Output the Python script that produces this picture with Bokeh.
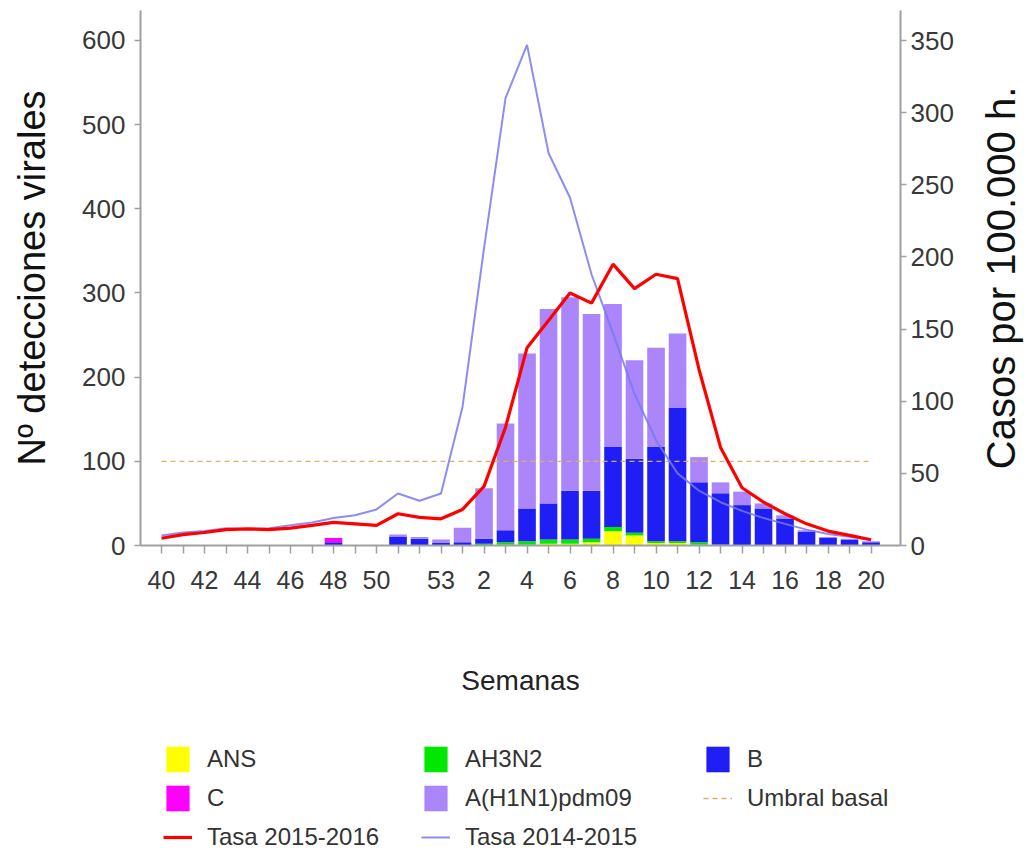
from bokeh.plotting import figure
from bokeh.layouts import column, row
from bokeh.models import (Range1d, LinearAxis, FixedTicker, Legend, LegendItem,
                          ColumnDataSource)
from bokeh.embed import file_html
from bokeh.resources import INLINE

# ---------------- data ----------------
weeks = ["40", "41", "42", "43", "44", "45", "46", "47", "48", "49", "50", "51", "52", "53",
         "1", "2", "3", "4", "5", "6", "7", "8", "9", "10", "11", "12", "13", "14", "15",
         "16", "17", "18", "19", "20"]
tick_labels = ["40", "", "42", "", "44", "", "46", "", "48", "", "50", "", "", "53",
               "", "2", "", "4", "", "6", "", "8", "", "10", "", "12", "", "14", "",
               "16", "", "18", "", "20"]

ans = [0, 0, 0, 0, 0, 0, 0, 0, 0, 0, 0, 0, 0, 0,
       0, 0, 1, 1, 2, 2, 4, 17, 12, 3, 3, 1, 0, 0, 0, 0, 0, 0, 0, 0]
ah3n2 = [0, 0, 0, 0, 0, 0, 0, 0, 0, 0, 0, 0, 0, 0,
         0, 2, 3, 4, 5, 5, 4, 5, 3, 2, 2, 3, 1, 0, 0, 0, 0, 0, 0, 0]
b = [0, 0, 0, 0, 0, 0, 0, 0, 4, 0, 0, 10, 8, 3,
     4, 6, 14, 39, 43, 58, 57, 95, 88, 112, 159, 71, 61, 48, 44, 32, 16, 9, 7, 4]
c = [0, 0, 0, 0, 0, 0, 0, 0, 5, 0, 0, 0, 0, 0,
     0, 0, 0, 0, 0, 0, 0, 0, 0, 0, 0, 0, 0, 0, 0, 0, 0, 0, 0, 0]
h1n1 = [0, 0, 0, 0, 0, 0, 0, 0, 0, 0, 0, 3, 2, 4,
        17, 60, 127, 184, 231, 230, 210, 170, 117, 118, 88, 30, 13, 16, 6, 4, 2, 1, 1, 1]

tasa_2015_2016 = [5, 7.5, 9, 11, 11.5, 11, 12, 14, 16, 15, 14, 22, 19.5, 18.5,
                  25, 41, 82, 137, 156, 175, 168, 195, 178, 188, 185, 122, 68, 40, 30, 22,
                  15, 10, 7, 4]
tasa_2014_2015 = [7, 9, 10, 12, 11.5, 12, 14, 16, 19, 21, 25, 36, 31, 36,
                  96, 206, 310, 347, 272, 241, 188, 147, 105, 73, 50, 38, 30, 24, 19, 15,
                  11, 8, 6, 4]
umbral_basal = 100

# ---------------- styling ----------------
FONT = "Liberation Sans"
AXIS_GRAY = "#a0a0a0"
COL_ANS, COL_H3, COL_B, COL_C, COL_H1 = "#ffff00", "#00e800", "#1f1ff5", "#ff00ff", "#ab86fb"
COL_UMB, COL_1415, COL_1516 = "#d8b066", "#7878f6", "#ff0000"

idx = list(range(len(weeks)))
src = ColumnDataSource(dict(x=idx, ANS=ans, AH3N2=ah3n2, B=b, C=c, H1N1=h1n1,
                            t1516=tasa_2015_2016, t1415=tasa_2014_2015,
                            umbral=[umbral_basal] * len(weeks)))

W_TOTAL = 1024
W_RT = 60                       # strip holding the right-hand axis title
W = W_TOTAL - W_RT
H_MAIN, H_LEG = 710, 146
FL, FR, FT, FB = 140, 900, 10, 545
p = figure(width=W, height=H_MAIN, output_backend="svg", toolbar_location=None,
           x_range=Range1d(-0.977, 34.37), y_range=Range1d(0, 635.6),
           min_border_left=FL, min_border_right=W - FR, min_border_top=FT,
           min_border_bottom=H_MAIN - FB)
p.extra_y_ranges = {"right": Range1d(0, 370.8)}
p.outline_line_color = None
p.grid.visible = False
p.background_fill_color = "white"
p.border_fill_color = "white"

# bars
bar_colors = [COL_ANS, COL_H3, COL_B, COL_C, COL_H1]
stack_keys = ["ANS", "AH3N2", "B", "C", "H1N1"]
bars = p.vbar_stack(stack_keys, x="x", width=0.82, color=bar_colors, source=src,
                    line_color=None)

# threshold line
p.line("x", "umbral", source=src, line_color=COL_UMB, line_width=1.3, line_dash="5 4")
# rate lines (right axis)
p.line("x", "t1415", source=src, y_range_name="right", line_color=COL_1415,
       line_width=2, line_alpha=0.85)
p.line("x", "t1516", source=src, y_range_name="right", line_color=COL_1516,
       line_width=3.2)

# x axis
xa = p.xaxis[0]
xa.ticker = FixedTicker(ticks=idx)
xa.major_label_overrides = {i: lab for i, lab in zip(idx, tick_labels)}
xa.axis_line_color = AXIS_GRAY
xa.axis_line_width = 2
xa.major_tick_line_color = AXIS_GRAY
xa.major_tick_line_width = 1.5
xa.major_tick_out = 8
xa.major_tick_in = 0
xa.minor_tick_line_color = None
xa.major_label_text_font = FONT
xa.major_label_text_font_size = "25px"
xa.major_label_text_color = "#383838"
xa.major_label_standoff = 17
xa.axis_label = "Semanas"
xa.axis_label_text_font = FONT
xa.axis_label_text_font_style = "normal"
xa.axis_label_text_font_size = "28px"
xa.axis_label_text_color = "#222222"
xa.axis_label_standoff = 73

# left axis
ya = p.yaxis[0]
ya.ticker = FixedTicker(ticks=[0, 100, 200, 300, 400, 500, 600])
ya.axis_line_color = AXIS_GRAY
ya.axis_line_width = 2
ya.major_tick_line_color = AXIS_GRAY
ya.major_tick_line_width = 1.5
ya.major_tick_out = 6
ya.major_tick_in = 0
ya.minor_tick_line_color = None
ya.major_label_text_font = FONT
ya.major_label_text_font_size = "26px"
ya.major_label_text_color = "#383838"
ya.major_label_standoff = 9
ya.axis_label = "Nº detecciones virales"
ya.axis_label_text_font = FONT
ya.axis_label_text_font_style = "normal"
ya.axis_label_text_font_size = "38px"
ya.axis_label_text_color = "#111111"
ya.axis_label_standoff = 26

# right axis (ticks and numbers)
ra = LinearAxis(y_range_name="right",
                ticker=FixedTicker(ticks=[0, 50, 100, 150, 200, 250, 300, 350]))
ra.axis_line_color = AXIS_GRAY
ra.axis_line_width = 2
ra.major_tick_line_color = AXIS_GRAY
ra.major_tick_line_width = 1.5
ra.major_tick_out = 6
ra.major_tick_in = 0
ra.minor_tick_line_color = None
ra.major_label_text_font = FONT
ra.major_label_text_font_size = "26px"
ra.major_label_text_color = "#383838"
ra.major_label_standoff = 4
p.add_layout(ra, "right")

# right-hand axis title, drawn as the (bottom-to-top) label of a slim companion plot
pr = figure(width=W_RT, height=H_MAIN, output_backend="svg", toolbar_location=None,
            x_range=Range1d(0, 1), y_range=Range1d(0, 370.8), x_axis_type=None,
            min_border_left=W_RT - 2, min_border_right=0, min_border_top=FT,
            min_border_bottom=H_MAIN - FB)
pr.outline_line_color = None
pr.grid.visible = False
ry = pr.yaxis[0]
ry.ticker = FixedTicker(ticks=[])
ry.axis_line_color = None
ry.major_tick_line_color = None
ry.minor_tick_line_color = None
ry.major_label_text_font_size = "0px"
ry.axis_label = "Casos por 100.000 h."
ry.axis_label_text_font = FONT
ry.axis_label_text_font_style = "normal"
ry.axis_label_text_font_size = "40px"
ry.axis_label_text_color = "#111111"
ry.axis_label_standoff = 0

# ---------------- legend figure (below the chart) ----------------
pl = figure(width=W_TOTAL, height=H_LEG, output_backend="svg", toolbar_location=None,
            x_range=Range1d(0, 1), y_range=Range1d(0, 1),
            x_axis_type=None, y_axis_type=None,
            min_border_left=FL, min_border_right=W - FR + W_RT,
            min_border_top=0, min_border_bottom=0)
pl.outline_line_color = None
pl.grid.visible = False

# legend-only proxies with zero size
lr = {}
for key, col in zip(stack_keys, bar_colors):
    lr[key] = pl.vbar(x=[0.5], top=[0], bottom=[0], width=0.0, fill_color=col,
                      line_color=None)
lr["UMB"] = pl.line(x=[0.5, 0.5], y=[0.5, 0.5], line_color=COL_UMB, line_width=1.3,
                    line_dash="5 4")
lr["T1415"] = pl.line(x=[0.5, 0.5], y=[0.5, 0.5], line_color=COL_1415, line_width=2,
                      line_alpha=0.85)
lr["T1516"] = pl.line(x=[0.5, 0.5], y=[0.5, 0.5], line_color=COL_1516, line_width=3.2)


def add_legend(entries, loc):
    lg = Legend(items=[LegendItem(label=t, renderers=[lr[k]]) for t, k in entries],
                location=loc, orientation="vertical",
                glyph_width=29, glyph_height=32, label_height=32,
                spacing=7, label_standoff=15, padding=2, margin=0,
                label_text_font=FONT, label_text_font_size="24px",
                label_text_color="#333333", border_line_color=None,
                background_fill_alpha=0)
    pl.add_layout(lg, "center")


# legend frame starts at the chart's left edge (x = 140 px)
add_legend([("ANS", "ANS"), ("C", "C"), ("Tasa 2015-2016", "T1516")], (23, 3))
add_legend([("AH3N2", "AH3N2"), ("A(H1N1)pdm09", "H1N1"), ("Tasa 2014-2015", "T1415")],
           (281, 3))
add_legend([("B", "B"), ("Umbral basal", "UMB")], (563, 42))

layout = column(row(p, pr, spacing=0), pl, spacing=0)
open("out.html", "w").write(file_html(layout, INLINE))
